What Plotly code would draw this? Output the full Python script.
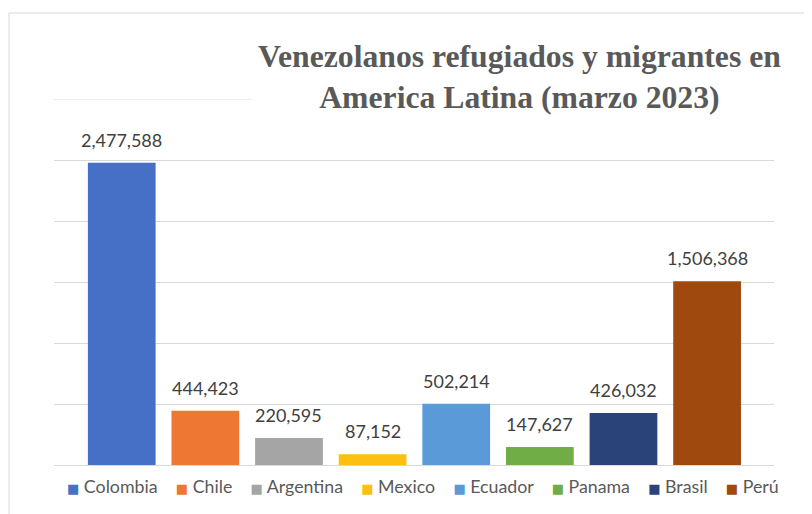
import plotly.graph_objects as go

# data
countries = ["Colombia", "Chile", "Argentina", "Mexico", "Ecuador", "Panama", "Brasil", "Perú"]
migrants = [2477588, 444423, 220595, 87152, 502214, 147627, 426032, 1506368]
bar_colors = ["#4570c6", "#ee7733", "#a5a5a5", "#fdc010", "#5a9ad8", "#71ad47", "#2a4479", "#a0490f"]

Y_MAX = 3000000
TITLE = "Venezolanos refugiados y migrantes en<br>America Latina (marzo 2023)"

fig = go.Figure()

for name, val, col in zip(countries, migrants, bar_colors):
    fig.add_trace(go.Bar(
        x=[name], y=[val], name=name,
        marker=dict(color=col, line=dict(width=0)),
        width=0.81, showlegend=False,
    ))
    # value label above each bar
    fig.add_annotation(
        x=name, y=val, text=f"{val:,}",
        showarrow=False, yanchor="bottom", yshift=10,
        font=dict(family="Lato", size=18, color="#404040"),
    )

# plotly drops the gridline sitting on the top edge, draw it back
fig.add_shape(
    type="line", xref="paper", yref="y", x0=0, x1=1, y0=Y_MAX, y1=Y_MAX,
    line=dict(color="#d9d9d9", width=1), layer="below",
)

# compact legend row (Excel style: small square + name)
legend_txt = "&nbsp;&nbsp;&nbsp;&nbsp;".join(
    f"<span style='color:{c}; font-family:DejaVu Sans; font-size:13px'>■</span>&nbsp;{n}"
    for n, c in zip(countries, bar_colors)
)
fig.add_annotation(
    xref="paper", yref="paper", x=0.5125, y=-0.057,
    text=legend_txt, showarrow=False, xanchor="center", yanchor="middle",
    font=dict(family="Lato", size=17.8, color="#595959"),
)

# title with white background, hides the top gridline like the original
fig.add_annotation(
    xref="paper", yref="paper", x=0.646, y=1.06,
    text=TITLE, showarrow=False, align="center",
    xanchor="center", yanchor="middle",
    bgcolor="white", borderpad=6,
    font=dict(family="Liberation Serif", size=31.7, color="#595959", weight="bold"),
)

# outer chart frame
fig.add_shape(
    type="rect", xref="paper", yref="paper",
    x0=-0.0625, x1=1.2, y0=-0.3, y1=1.235,
    line=dict(color="#d9d9d9", width=1), layer="below",
)

fig.update_layout(
    width=812, height=514,
    margin=dict(l=46, r=46, t=91, b=57, autoexpand=False),
    paper_bgcolor="white", plot_bgcolor="white",
    barmode="overlay",
    showlegend=False,
    xaxis=dict(
        range=[-0.81, 7.80], showticklabels=False, showgrid=False,
        zeroline=False, showline=False, ticks="",
    ),
    yaxis=dict(
        range=[0, Y_MAX], dtick=500000, showticklabels=False,
        showgrid=True, gridcolor="#d9d9d9", gridwidth=1,
        zeroline=True, zerolinecolor="#d9d9d9", zerolinewidth=1,
        showline=False, ticks="",
    ),
)

fig.write_html("out.html")
